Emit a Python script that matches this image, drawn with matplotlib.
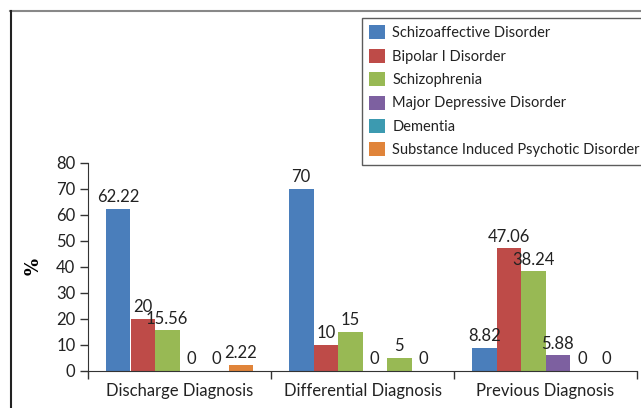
import matplotlib
matplotlib.use("Agg")
import matplotlib.pyplot as plt
from matplotlib.lines import Line2D
import numpy as np

plt.rcParams['font.family'] = ['Lato', 'DejaVu Sans']

groups = ["Discharge Diagnosis", "Differential Diagnosis", "Previous Diagnosis"]
series_names = ["Schizoaffective Disorder", "Bipolar I Disorder", "Schizophrenia",
                "Major Depressive Disorder", "Dementia", "Substance Induced Psychotic Disorder"]
schizoaffective = [62.22, 70, 8.82]
bipolar = [20, 10, 47.06]
schizophrenia = [15.56, 15, 38.24]
major_depressive = [0, 0, 5.88]
dementia = [0, 5, 0]
substance = [2.22, 0, 0]
value_labels = [
    ["62.22", "70", "8.82"],
    ["20", "10", "47.06"],
    ["15.56", "15", "38.24"],
    ["0", "0", "5.88"],
    ["0", "5", "0"],
    ["2.22", "0", "0"],
]
series = [schizoaffective, bipolar, schizophrenia, major_depressive, dementia, substance]
colors = ["#4A7EBB", "#BE4B48", "#98B954", "#7D60A0", "#3C9AB0", "#E0843A"]
# in the source chart the Dementia bar of the 2nd group is drawn in green
bar_colors = [[c] * 3 for c in colors]
bar_colors[4][1] = colors[2]

fig = plt.figure(figsize=(6.41, 4.08), dpi=100)
W, H = 641, 408
ax = fig.add_axes([88 / W, 1 - 370.7 / H, (637 - 88) / W, (370.7 - 162.7) / H])

x = np.arange(len(groups))
bw = 24.5 / 183
for i, (vals, name) in enumerate(zip(series, series_names)):
    pos = x + (i - 2.5) * bw
    ax.bar(pos, vals, width=bw, color=bar_colors[i], label=name, linewidth=0)
    for xp, v, lab in zip(pos, vals, value_labels[i]):
        ax.annotate(lab, (xp, v), xytext=(0, 2.5), textcoords="offset points",
                    ha="center", va="bottom", fontsize=12, color="#222222")

ax.set_xlim(-0.5, 2.5)
ax.set_ylim(0, 80)
ax.set_yticks(np.arange(0, 81, 10))
ax.set_xticks(x)
ax.set_xticklabels(groups, fontsize=12, color="#222222")
ax.set_xticks([-0.5, 0.5, 1.5, 2.5], minor=True)
ax.tick_params(axis="x", which="major", length=0, pad=9)
ax.tick_params(axis="x", which="minor", length=6, width=1, color="#333333")
ax.tick_params(axis="y", length=6, width=1, color="#333333", labelsize=12, labelcolor="#222222", pad=3)
for s in ["top", "right"]:
    ax.spines[s].set_visible(False)
ax.spines["left"].set_color("#333333")
ax.spines["bottom"].set_color("#333333")
ax.set_ylabel("%", fontsize=13, fontweight="bold", family="DejaVu Serif", labelpad=10)

# figure frame lines (top and left)
fig.add_artist(Line2D([10 / W, 1], [1 - 11 / H, 1 - 11 / H], transform=fig.transFigure,
                      color="#888888", lw=1.5))
fig.add_artist(Line2D([10.5 / W, 10.5 / W], [0, 1 - 11 / H], transform=fig.transFigure,
                      color="#222222", lw=1.5))

leg = fig.legend(loc="upper left", bbox_to_anchor=(362 / W, 1 - 18 / H), fontsize=10.5,
                 frameon=True, fancybox=False, edgecolor="#333333", borderaxespad=0,
                 handlelength=1.1, handleheight=1.1, handletextpad=0.48,
                 labelspacing=0.58, borderpad=0.5)
leg.get_frame().set_linewidth(1)
for t in leg.get_texts():
    t.set_color("#222222")

fig.savefig("out.png", dpi=100)
